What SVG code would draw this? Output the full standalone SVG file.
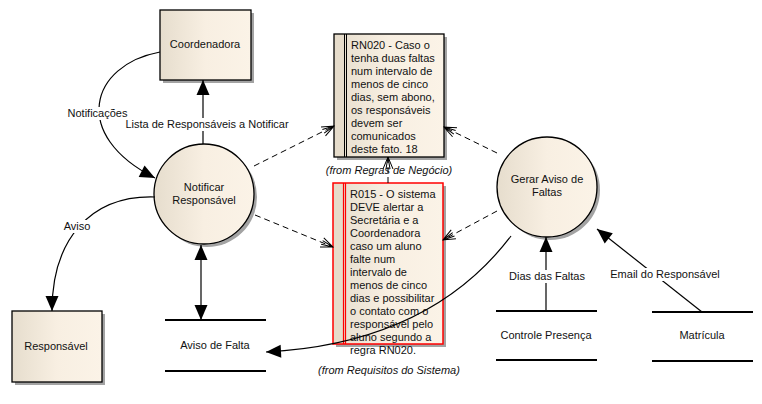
<svg xmlns="http://www.w3.org/2000/svg" width="762" height="404" viewBox="0 0 762 404">
<style>
text{font-family:"Liberation Sans",Arial,sans-serif;font-size:11px;fill:#111}
.c{text-anchor:middle}
.it{font-style:italic}
.sh{fill:#a3a3a3}
.ent{fill:url(#g);stroke:#000;stroke-width:1.3}
.store{stroke:#000;stroke-width:2}
.flow{fill:none;stroke:#000;stroke-width:1.2}
.dash{fill:none;stroke:#000;stroke-width:1;stroke-dasharray:6,4}
.lbl{fill:#fff}
</style>
<defs>
<linearGradient id="g" x1="0" y1="0" x2="1" y2="0">
<stop offset="0" stop-color="#e6ddcd"/>
<stop offset="0.5" stop-color="#f8efe2"/>
<stop offset="1" stop-color="#fbf3e7"/>
</linearGradient>
<marker id="fa" markerUnits="userSpaceOnUse" viewBox="-16 -8 17 16" markerWidth="17" markerHeight="16" refX="0" refY="0" orient="auto-start-reverse">
<path d="M0,0 L-15,-6.5 L-15,6.5 Z" fill="#000"/>
</marker>
<marker id="oa" markerUnits="userSpaceOnUse" viewBox="-14 -7 15 14" markerWidth="15" markerHeight="14" refX="0" refY="0" orient="auto">
<path d="M-12,-5 L0,0 L-12,5 M-12,-2 L0,0 L-12,2" fill="none" stroke="#000" stroke-width="1"/>
</marker>
</defs>

<g id="coordenadora">
<rect class="sh" x="163" y="13" width="91" height="70"/>
<rect class="ent" x="160" y="10" width="91" height="70"/>
<text class="c" x="205" y="48">Coordenadora</text>
</g>

<g id="responsavel">
<rect class="sh" x="15" y="314" width="90" height="71"/>
<rect class="ent" x="12" y="311" width="90" height="71"/>
<text class="c" x="56" y="350">Responsável</text>
</g>

<g id="notificar">
<circle class="sh" cx="207" cy="197" r="50"/>
<circle class="ent" cx="204" cy="194" r="50"/>
<text class="c" x="204" y="191">Notificar</text>
<text class="c" x="204" y="204">Responsável</text>
</g>

<g id="gerar">
<circle class="sh" cx="550" cy="190" r="50"/>
<circle class="ent" cx="547" cy="187" r="50"/>
<text class="c" x="547" y="183">Gerar Aviso de</text>
<text class="c" x="547" y="196">Faltas</text>
</g>

<g id="aviso-falta">
<line class="store" x1="165" y1="320" x2="266" y2="320"/>
<line class="store" x1="165" y1="371" x2="266" y2="371"/>
<text class="c" x="215" y="349">Aviso de Falta</text>
</g>

<g id="controle-presenca">
<line class="store" x1="496" y1="311" x2="597" y2="311"/>
<line class="store" x1="496" y1="360" x2="597" y2="360"/>
<text class="c" x="546" y="339">Controle Presença</text>
</g>

<g id="matricula">
<line class="store" x1="652" y1="312" x2="753" y2="312"/>
<line class="store" x1="652" y1="361" x2="753" y2="361"/>
<text class="c" x="702" y="339">Matrícula</text>
</g>

<g id="rn020">
<rect class="sh" x="337" y="37" width="110" height="123"/>
<rect x="334" y="34" width="110" height="123" fill="url(#g)"/>
<rect x="334" y="34" width="10" height="123" fill="#e6dccb"/>
<line x1="344.5" y1="34" x2="344.5" y2="157" stroke="#000" stroke-width="1"/>
<line x1="346.5" y1="34" x2="346.5" y2="157" stroke="#000" stroke-width="1"/>
<rect x="334" y="34" width="110" height="123" fill="none" stroke="#000" stroke-width="1.3"/>
<text x="351" y="49">RN020 - Caso o</text>
<text x="351" y="62">tenha duas faltas</text>
<text x="351" y="75">num intervalo de</text>
<text x="351" y="88">menos de cinco</text>
<text x="351" y="101">dias, sem abono,</text>
<text x="351" y="114">os responsáveis</text>
<text x="351" y="127">devem ser</text>
<text x="351" y="140">comunicados</text>
<text x="351" y="153">deste fato. 18</text>
<text class="c it" x="389" y="174">(from Regras de Negócio)</text>
</g>

<g id="r015">
<rect class="sh" x="336" y="186" width="110" height="161"/>
<rect x="333" y="183" width="110" height="161" fill="url(#g)"/>
<rect x="333" y="183" width="10" height="161" fill="#e6dccb"/>
<line x1="343.5" y1="183" x2="343.5" y2="344" stroke="#f00" stroke-width="1.2"/>
<line x1="345.5" y1="183" x2="345.5" y2="344" stroke="#f00" stroke-width="1.2"/>
<rect x="333" y="183" width="110" height="161" fill="none" stroke="#f00" stroke-width="1.5"/>
<text x="350" y="198">R015 - O sistema</text>
<text x="350" y="211">DEVE alertar a</text>
<text x="350" y="224">Secretária e a</text>
<text x="350" y="237">Coordenadora</text>
<text x="350" y="250">caso um aluno</text>
<text x="350" y="263">falte num</text>
<text x="350" y="276">intervalo de</text>
<text x="350" y="289">menos de cinco</text>
<text x="350" y="302">dias e possibilitar</text>
<text x="350" y="315">o contato com o</text>
<text x="350" y="328">responsável pelo</text>
<text x="350" y="341">aluno segundo a</text>
<text x="350" y="354">regra RN020.</text>
<text class="c it" x="389" y="374">(from Requisitos do Sistema)</text>
</g>

<g id="connectors">
<path class="flow" d="M160,52 C90,65 70,135 155,178" marker-end="url(#fa)"/>
<rect class="lbl" x="67" y="107" width="61" height="13"/>
<text class="c" x="97.5" y="117">Notificações</text>

<line class="flow" x1="203" y1="144" x2="203" y2="80" marker-end="url(#fa)"/>
<rect class="lbl" x="129" y="118" width="157" height="13"/>
<text class="c" x="207" y="128">Lista de Responsáveis a Notificar</text>

<path class="flow" d="M155,197 C90,195 52,240 52,311" marker-end="url(#fa)"/>
<rect class="lbl" x="63" y="220" width="29" height="13"/>
<text class="c" x="77" y="230">Aviso</text>

<line class="flow" x1="201" y1="245" x2="201" y2="320" marker-start="url(#fa)" marker-end="url(#fa)"/>

<path class="flow" d="M511,236 C470,290 400,345 266,352" marker-end="url(#fa)"/>

<line class="flow" x1="546" y1="311" x2="546" y2="237" marker-end="url(#fa)"/>
<rect class="lbl" x="510" y="270" width="74" height="13"/>
<text class="c" x="547" y="280">Dias das Faltas</text>

<line class="flow" x1="702" y1="312" x2="597" y2="229" marker-end="url(#fa)"/>
<rect class="lbl" x="612" y="268" width="106" height="13"/>
<text class="c" x="665" y="278">Email do Responsável</text>

<line class="dash" x1="254" y1="166" x2="334" y2="126" marker-end="url(#oa)"/>
<line class="dash" x1="255" y1="215" x2="333" y2="247" marker-end="url(#oa)"/>
<line class="dash" x1="497" y1="153" x2="444" y2="127" marker-end="url(#oa)"/>
<line class="dash" x1="497" y1="211" x2="443" y2="240" marker-end="url(#oa)"/>
<line class="dash" x1="388" y1="183" x2="388" y2="157" marker-end="url(#oa)"/>
</g>
</svg>
